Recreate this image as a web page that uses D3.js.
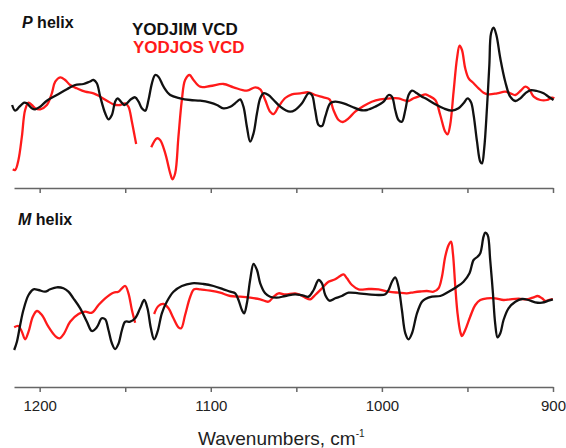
<!DOCTYPE html>
<html>
<head>
<meta charset="utf-8">
<script src="https://cdn.jsdelivr.net/npm/d3@7"></script>
<style>
  body { margin: 0; background: #fff; }
  text { font-family: "Liberation Sans", Arial, sans-serif; }
</style>
</head>
<body>
<script>
// [wavenumber (cm-1), VCD intensity (arb.)], null = gap in the trace
const pBlack = [
  [1216.1, 0], [1214.3, -0.57], [1211.8, -0.17], [1209.1, 0.23], [1207.5, 0.17], [1204.6, -0.33],
  [1202.6, -0.43], [1199.7, -0.17], [1195.8, 0.43], [1190.0, 1.0], [1184.1, 1.57], [1179.3, 2.0],
  [1174.4, 2.1], [1170.9, 2.33], [1168.5, 2.5], [1166.6, 2.17], [1164.6, 0.83], [1161.7, -0.83],
  [1159.8, -1.43], [1157.8, -1.0], [1155.9, 0.33], [1154.5, 0.67], [1152.5, 0.33], [1150.6, 0],
  [1149.0, 0.17], [1146.7, 0.57], [1144.2, 0.77], [1142.2, 0.33], [1140.3, -0.33], [1138.3, -0.57],
  [1136.4, 0.5], [1134.4, 2.17], [1132.5, 3.0], [1130.6, 2.83], [1127.6, 1.83], [1123.7, 1.0],
  [1117.9, 0.67], [1112.0, 0.5], [1106.2, 0.43], [1100.3, 0.23], [1096.4, 0], [1092.6, -0.33],
  [1088.6, -0.17], [1084.7, 0.33], [1082.8, 0.57], [1080.9, -0.17], [1078.9, -2.17], [1077.0, -3.67],
  [1075.0, -2.83], [1073.0, -0.83], [1071.1, 0.67], [1069.2, 1.17], [1066.3, 1.0], [1063.3, 0.5],
  [1059.4, -0.17], [1056.5, -0.5], [1053.6, -0.67], [1050.7, -0.5], [1046.7, 0.17], [1042.9, 1.17],
  [1040.9, 1.0], [1039.0, -0.5], [1037.0, -2.0], [1035.0, -2.1], [1033.1, -1.17], [1030.2, 0.17],
  [1027.3, 0.33], [1022.4, 0.17], [1017.5, -0.17], [1012.6, -0.5], [1008.7, -0.5], [1003.9, -0.17],
  [999.0, 0.33], [996.1, 1.0], [994.1, 0.83], [992.2, -0.5], [990.3, -1.5], [988.3, -1.67],
  [986.3, -0.5], [984.4, 1.0], [982.4, 1.43], [979.5, 1.17], [976.6, 0.83], [974.6, 0.67],
  [968.8, 0.07], [964.0, -0.33], [959.0, -0.57], [955.2, -0.33], [952.3, 0.17], [949.9, 0.67],
  [947.9, 0.27], [946.4, -1.0], [944.4, -3.67], [942.5, -5.67], [941.5, -5.83], [940.2, -4.33],
  [938.6, -0.33], [937.2, 4.0], [936.2, 7.17], [934.7, 7.73], [933.1, 7.0], [930.8, 4.67],
  [927.9, 2.33], [925.0, 0.83], [922.0, 0.4], [919.1, 0.67], [916.2, 1.17], [913.3, 1.47],
  [909.4, 1.4], [905.5, 1.17], [902.6, 0.83], [899.7, 0.5]
];
const pRed = [
  [1215.7, -6.43], [1214.3, -6.5], [1212.4, -5.5], [1210.4, -3.17], [1208.5, -0.5], [1206.5, 0.23],
  [1204.6, 0], [1202.6, -0.33], [1199.7, -0.43], [1195.8, 0], [1192.9, 1.17], [1190.9, 2.33],
  [1188.0, 2.77], [1185.1, 2.5], [1182.2, 2.0], [1178.3, 1.67], [1173.4, 1.33], [1168.5, 1.17],
  [1164.6, 0.83], [1160.7, 0.43], [1156.9, 0.07], [1152.9, 0], [1150.0, 0.17], [1148.1, -0.17],
  [1146.1, -1.67], [1144.8, -2.83], [1143.6, -3.9],
  null,
  [1134.8, -4.23], [1131.5, -3.33], [1129.6, -3.5], [1126.6, -4.83], [1123.7, -6.83], [1122.4, -7.43],
  [1120.8, -6.83], [1118.9, -3.17], [1116.9, 0.5], [1115.0, 2.5], [1112.4, 3.0], [1110.1, 2.5],
  [1106.2, 1.83], [1100.3, 1.9], [1092.6, 2.1], [1086.7, 1.77], [1078.9, 1.43], [1074.0, 1.77],
  [1071.1, 1.57], [1068.2, 0.5], [1065.3, -0.67], [1063.3, -0.9], [1060.4, -0.17], [1056.5, 0.7],
  [1052.6, 1.07], [1047.7, 1.17], [1042.9, 1.27], [1039.0, 1.0], [1034.1, 0.77], [1030.6, 0.57],
  [1028.3, -0.5], [1025.3, -1.5], [1022.8, -1.7], [1019.5, -1.33], [1015.6, -0.67], [1010.7, -0.1],
  [1005.9, 0.33], [1001.0, 0.57], [995.1, 0.67], [990.4, 0.67], [987.4, 0.5], [984.4, 0.4],
  [981.5, 0.67], [977.6, 0.9], [974.6, 1.07], [972.7, 0.93], [968.8, 0.5], [965.9, -1.0],
  [963.0, -2.67], [961.6, -2.93], [960.1, -2.0], [958.1, 1.33], [956.1, 4.67], [954.6, 5.93],
  [953.2, 5.5], [951.3, 3.67], [949.3, 2.67], [946.4, 2.17], [943.5, 1.67], [940.6, 1.23],
  [937.7, 1.07], [932.7, 1.17], [927.9, 1.33], [925.0, 1.17], [922.0, 1.0], [919.1, 1.4],
  [916.2, 1.83], [914.3, 1.67], [911.3, 0.83], [907.4, 0.5], [903.5, 0.5], [900.6, 0.73], [899.2, 0.67]
];
const mBlack = [
  [1214.9, -5.3], [1213.3, -4.47], [1211.4, -2.8], [1209.5, -1.3], [1206.5, 0.2], [1203.6, 0.77],
  [1200.7, 0.7], [1196.8, 0.53], [1193.9, 0.77], [1190.0, 0.97], [1186.1, 0.87], [1183.2, 0.53],
  [1180.3, -0.13], [1176.3, -1.13], [1172.4, -2.47], [1169.5, -3.4], [1166.6, -3.03], [1163.7, -2.13],
  [1161.7, -2.23], [1159.8, -3.3], [1157.8, -4.63], [1155.9, -5.2], [1154.0, -4.7], [1151.9, -3.3],
  [1150.0, -2.47], [1147.1, -2.47], [1144.2, -2.13], [1141.3, -1.13], [1138.9, -0.3], [1137.0, -1.13],
  [1135.0, -3.13], [1133.1, -4.23], [1131.1, -3.47], [1128.6, -1.63], [1125.7, -0.47], [1121.8, 0.53],
  [1116.9, 1.1], [1111.0, 1.37], [1104.3, 1.3], [1098.4, 1.1], [1092.6, 0.77], [1088.6, 0.53],
  [1085.7, 0.37], [1083.8, -0.3], [1081.8, -1.3], [1080.5, -1.63], [1078.9, -0.63], [1077.0, 1.7],
  [1075.0, 3.3], [1073.0, 2.7], [1071.1, 1.37], [1068.2, 0.37], [1065.3, 0.03], [1061.4, -0.07],
  [1056.5, 0.1], [1050.7, 0.27], [1045.8, 0.13], [1042.9, 0.03], [1039.9, 0.7], [1037.0, 1.7],
  [1035.0, 1.37], [1033.1, 0.2], [1030.6, -0.37], [1027.3, -0.13], [1023.4, 0.1], [1019.5, 0.43],
  [1013.6, 0.37], [1007.8, 0.27], [1001.9, 0.2], [998.0, 0.27], [996.1, 0.7], [994.1, 1.53],
  [992.2, 1.97], [990.3, 1.03], [988.3, -1.3], [986.3, -3.63], [984.4, -4.23], [982.4, -3.63],
  [979.5, -1.63], [976.6, -0.47], [974.6, -0.2], [970.7, 0.03], [965.9, 0.1], [961.0, 0.53],
  [956.1, 1.03], [952.3, 1.53], [948.8, 2.37], [946.4, 3.7], [944.1, 4.03], [942.5, 4.37],
  [940.6, 6.03], [939.6, 6.43], [938.2, 6.2], [936.7, 3.7], [935.1, 0.37], [933.8, -2.63],
  [932.4, -4.03], [930.8, -3.63], [928.9, -2.3], [926.0, -1.13], [922.0, -0.47], [918.1, -0.2],
  [914.3, -0.3], [910.4, -0.53], [906.4, -0.57], [902.6, -0.37], [900.1, -0.23]
];
const mRed = [
  [1214.9, -3.03], [1212.4, -2.9], [1210.4, -3.47], [1208.5, -4.23], [1206.5, -3.47], [1204.0, -1.97],
  [1201.6, -1.4], [1198.7, -1.8], [1194.9, -2.97], [1190.9, -3.9], [1188.4, -4.13], [1185.7, -3.63],
  [1182.2, -2.47], [1177.3, -1.7], [1173.4, -1.47], [1169.5, -1.57], [1165.6, -0.8], [1161.7, -0.13],
  [1156.9, 0.43], [1154.0, 0.53], [1151.9, 0.87], [1150.0, 1.1], [1148.1, 0.37], [1146.1, -1.3],
  [1144.2, -2.57],
  null,
  [1133.1, -1.7], [1130.6, -0.9], [1127.6, -0.7], [1124.7, -1.13], [1121.8, -2.13], [1118.9, -3.03],
  [1117.3, -3.13], [1115.0, -1.8], [1112.0, 0.03], [1109.7, 0.77], [1106.2, 0.77], [1100.3, 0.63],
  [1094.5, 0.43], [1088.6, 0.1], [1082.8, 0.03], [1077.0, -0.07], [1071.1, -0.23], [1066.3, -0.47],
  [1063.3, 0.03], [1060.4, 0.37], [1056.5, 0.25], [1050.7, 0.37], [1047.7, 0.2], [1044.8, -0.07],
  [1041.9, -0.23], [1039.0, 0.2], [1035.0, 0.87], [1031.2, 1.53], [1027.3, 1.77], [1024.4, 2.1],
  [1022.4, 2.27], [1020.4, 1.87], [1017.5, 1.2], [1013.6, 0.77], [1007.8, 0.8], [1001.9, 0.77],
  [996.1, 0.53], [990.3, 0.43], [985.4, 0.37], [981.5, 0.47], [977.6, 0.55], [973.7, 0.6],
  [969.8, 0.53], [966.9, 0.87], [964.9, 2.03], [963.0, 4.03], [961.0, 5.2], [959.6, 5.53],
  [958.5, 4.37], [957.1, 1.03], [955.8, -1.63], [954.2, -3.47], [953.2, -3.9], [951.3, -3.3],
  [948.4, -1.97], [945.4, -0.8], [942.5, -0.3], [938.6, -0.13], [933.8, -0.13], [928.9, -0.3],
  [925.0, -0.23], [920.1, -0.17], [915.2, -0.23], [911.3, -0.03], [909.0, 0.1], [906.4, -0.13],
  [904.5, -0.4], [902.6, -0.3], [900.1, -0.2]
];
const majorTicks = [1200, 1100, 1000, 900];
const minorTicks = [1150, 1050, 950];

const width = 566, height = 448;
const svg = d3.select("body").append("svg")
  .attr("width", width)
  .attr("height", height);

const x = d3.scaleLinear().domain([1215, 900]).range([14, 553]);

const panels = [
  { label: "P", black: pBlack, red: pRed, axisY: 188, y: d3.scaleLinear().domain([-8, 8]).range([185, 25]), labelY: 28, showLabels: false },
  { label: "M", black: mBlack, red: mRed, axisY: 387, y: d3.scaleLinear().domain([-8, 8]).range([377, 217]), labelY: 225, showLabels: true }
];

panels.forEach(p => {
  const axis = d3.axisBottom(x)
    .tickValues(majorTicks.concat(minorTicks))
    .tickSize(5)
    .tickSizeOuter(0)
    .tickPadding(8)
    .tickFormat(d => (p.showLabels && majorTicks.includes(d)) ? d : "");

  const g = svg.append("g")
    .attr("transform", "translate(0," + p.axisY + ")")
    .call(axis);
  g.selectAll("path, line").attr("stroke", "#666").attr("stroke-width", 1.5);
  g.selectAll("text")
    .attr("fill", "#222")
    .style("font-size", "15px")
    .style("font-family", "Liberation Sans, Arial, sans-serif");

  const line = d3.line()
    .defined(d => d != null)
    .x(d => x(d[0]))
    .y(d => p.y(d[1]))
    .curve(d3.curveCatmullRom.alpha(0.5));

  svg.append("path").datum(p.red)
    .attr("fill", "none").attr("stroke", "#ff1a1a")
    .attr("stroke-width", 2.3).attr("stroke-linejoin", "round")
    .attr("d", line);
  svg.append("path").datum(p.black)
    .attr("fill", "none").attr("stroke", "#111")
    .attr("stroke-width", 2.3).attr("stroke-linejoin", "round")
    .attr("d", line);

  const t = svg.append("text")
    .attr("x", p.label === "P" ? 22 : 18)
    .attr("y", p.labelY)
    .attr("fill", "#111")
    .style("font-size", "16px")
    .style("font-weight", "bold");
  t.append("tspan").style("font-style", "italic").text(p.label);
  t.append("tspan").text(" helix");
});

svg.append("text")
  .attr("x", 132).attr("y", 35)
  .attr("fill", "#111")
  .style("font-size", "17px").style("font-weight", "bold")
  .text("YODJIM VCD");
svg.append("text")
  .attr("x", 133).attr("y", 53)
  .attr("fill", "#ff1a1a")
  .style("font-size", "17px").style("font-weight", "bold")
  .text("YODJOS VCD");

const title = svg.append("text")
  .attr("x", 198).attr("y", 445)
  .attr("fill", "#222")
  .style("font-size", "19px");
title.append("tspan").text("Wavenumbers, cm");
title.append("tspan").attr("dy", -8).style("font-size", "10px").text("-1");
</script>
</body>
</html>
